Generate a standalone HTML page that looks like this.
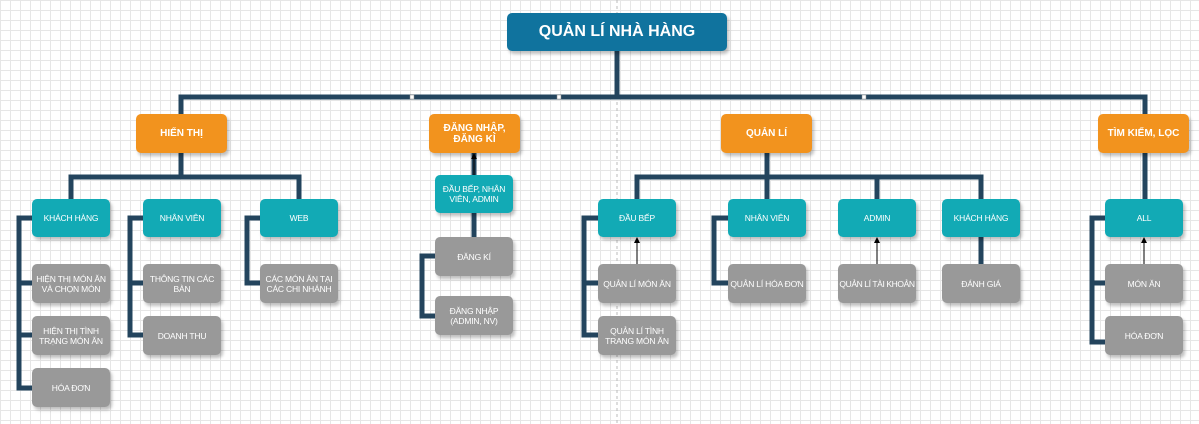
<!DOCTYPE html>
<html><head><meta charset="utf-8"><style>
body{margin:0;width:1199px;height:424px;overflow:hidden;background:#fff;
background-image:linear-gradient(#e6e6e6 1px,transparent 1px),linear-gradient(90deg,#e6e6e6 1px,transparent 1px);
background-size:10px 10px;font-family:"Liberation Sans",sans-serif;position:relative}
.b{position:absolute;border-radius:5px;color:#fff;display:flex;align-items:center;justify-content:center;text-align:center;font-size:8.5px;line-height:10px;box-shadow:2px 3px 3px rgba(0,0,0,.25);box-sizing:border-box;padding:0 1px;letter-spacing:-0.2px}
.n{white-space:nowrap}
.r{background:#10739e;font-size:16px;font-weight:bold;letter-spacing:0}
.o{background:#f2931e;font-size:10px;font-weight:bold;line-height:11px;letter-spacing:0}
.t{background:#12aab5}
.g{background:#999}
svg{position:absolute;left:0;top:0}
</style></head><body>
<svg width="1199" height="424">
<line x1="617" y1="0" x2="617" y2="424" stroke="#bbb" stroke-dasharray="3,3"/>
<g stroke="#23445d" stroke-width="5" fill="none">
<path d="M617 51V97M181 114V97H1145V114"/>
<path d="M181 153V177M71 199V177H299V199"/>
<path d="M32 218H19V388H32M19 283H32M19 335H32"/>
<path d="M143 218H130V335H143M130 283H143"/>
<path d="M260 218H247V283H260"/>
<path d="M474 153V237"/>
<path d="M435 256H422V316H435"/>
<path d="M767 153V177M637 199V177H981V199M767 177V199M877 177V199"/>
<path d="M598 218H584V335H598M584 283H598"/>
<path d="M728 218H714V283H728"/>
<path d="M981 237V264"/>
<path d="M1145 153V199"/>
<path d="M1105 218H1092V342H1105M1092 283H1105"/>
</g>
<g stroke="#000" stroke-width="1">
<line x1="474" y1="175" x2="474" y2="158"/><line x1="637" y1="264" x2="637" y2="242"/>
<line x1="877" y1="264" x2="877" y2="242"/><line x1="1144" y1="264" x2="1144" y2="242"/>
</g>
<g fill="#000">
<path d="M471 159L474 153L477 159Z"/><path d="M634 243L637 237L640 243Z"/>
<path d="M874 243L877 237L880 243Z"/><path d="M1141 243L1144 237L1147 243Z"/>
</g>
<g fill="#fff" stroke="#888" stroke-width="0.5"><rect x="410" y="95" width="4" height="4"/><rect x="557" y="95" width="4" height="4"/><rect x="862" y="95" width="4" height="4"/></g>
</svg>
<div class="b r" style="left:507px;top:13px;width:220px;height:38px">QUẢN LÍ NHÀ HÀNG</div>
<div class="b o" style="left:136px;top:114px;width:91px;height:39px">HIỂN THỊ</div>
<div class="b o" style="left:429px;top:114px;width:91px;height:39px">ĐĂNG NHẬP, ĐĂNG KÍ</div>
<div class="b o" style="left:721px;top:114px;width:91px;height:39px">QUẢN LÍ</div>
<div class="b o" style="left:1098px;top:114px;width:91px;height:39px">TÌM KIẾM, LỌC</div>
<div class="b t n" style="left:32px;top:199px;width:78px;height:38px">KHÁCH HÀNG</div>
<div class="b t n" style="left:143px;top:199px;width:78px;height:38px">NHÂN VIÊN</div>
<div class="b t n" style="left:260px;top:199px;width:78px;height:38px">WEB</div>
<div class="b g" style="left:32px;top:264px;width:78px;height:39px">HIỆN THỊ MÓN ĂN<br>VÀ CHỌN MÓN</div>
<div class="b g" style="left:32px;top:316px;width:78px;height:39px">HIỆN THỊ TÌNH<br>TRẠNG MÓN ĂN</div>
<div class="b g n" style="left:32px;top:368px;width:78px;height:39px">HÓA ĐƠN</div>
<div class="b g" style="left:143px;top:264px;width:78px;height:39px">THÔNG TIN CÁC<br>BÀN</div>
<div class="b g n" style="left:143px;top:316px;width:78px;height:39px">DOANH THU</div>
<div class="b g" style="left:260px;top:264px;width:78px;height:39px">CÁC MÓN ĂN TẠI<br>CÁC CHI NHÁNH</div>
<div class="b t" style="left:435px;top:175px;width:78px;height:38px">ĐẦU BẾP, NHÂN<br>VIÊN, ADMIN</div>
<div class="b g n" style="left:435px;top:237px;width:78px;height:39px">ĐĂNG KÍ</div>
<div class="b g" style="left:435px;top:296px;width:78px;height:39px">ĐĂNG NHẬP<br>(ADMIN, NV)</div>
<div class="b t n" style="left:598px;top:199px;width:78px;height:38px">ĐẦU BẾP</div>
<div class="b t n" style="left:728px;top:199px;width:78px;height:38px">NHÂN VIÊN</div>
<div class="b t n" style="left:838px;top:199px;width:78px;height:38px">ADMIN</div>
<div class="b t n" style="left:942px;top:199px;width:78px;height:38px">KHÁCH HÀNG</div>
<div class="b g n" style="left:598px;top:264px;width:78px;height:39px">QUẢN LÍ MÓN ĂN</div>
<div class="b g" style="left:598px;top:316px;width:78px;height:39px">QUẢN LÍ TÌNH<br>TRANG MÓN ĂN</div>
<div class="b g n" style="left:728px;top:264px;width:78px;height:39px">QUẢN LÍ HÓA ĐƠN</div>
<div class="b g n" style="left:838px;top:264px;width:78px;height:39px;padding:0;letter-spacing:-0.4px">QUẢN LÍ TÀI KHOẢN</div>
<div class="b g n" style="left:942px;top:264px;width:78px;height:39px">ĐÁNH GIÁ</div>
<div class="b t n" style="left:1105px;top:199px;width:78px;height:38px">ALL</div>
<div class="b g n" style="left:1105px;top:264px;width:78px;height:39px">MÓN ĂN</div>
<div class="b g n" style="left:1105px;top:316px;width:78px;height:39px">HÓA ĐƠN</div>
</body></html>
